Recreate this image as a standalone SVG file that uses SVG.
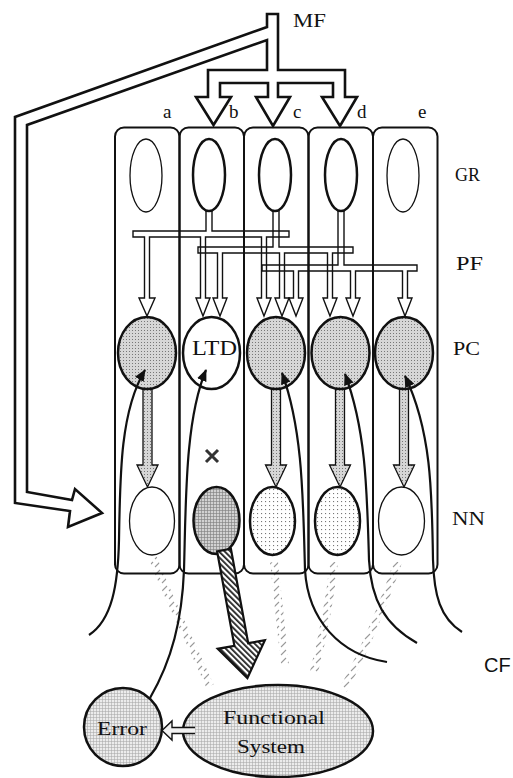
<svg xmlns="http://www.w3.org/2000/svg" width="513" height="778" viewBox="0 0 513 778">
<style>
.t{font-family:"Liberation Serif","Times New Roman",serif;fill:#111}
.cell{fill:none;stroke:#111;stroke-width:2}
.grThin{fill:#fff;stroke:#111;stroke-width:1.3}
.grThick{fill:#fff;stroke:#111;stroke-width:2.5}
.pc{stroke:#111;stroke-width:2.5}
.nnThin{fill:#fff;stroke:#111;stroke-width:1.3}
.nnThick{stroke:#111;stroke-width:2.5}
.pfFill{fill:#fff;stroke:none}
.pfLine{fill:none;stroke:#111;stroke-width:1.4;stroke-linejoin:miter}
.cf{fill:none;stroke:#111;stroke-width:2.2;marker-end:url(#cfHead)}
.pcnn{fill:url(#stip);stroke:#111;stroke-width:1.3}
.strip{fill:none;stroke:url(#ticks);stroke-width:8}
</style>
<defs>
<pattern id="stip" width="3" height="3" patternUnits="userSpaceOnUse"><rect width="3" height="3" fill="#d6d6d6"/><rect width="1" height="1" fill="#777"/></pattern>
<pattern id="dots" width="4" height="4" patternUnits="userSpaceOnUse"><rect width="4" height="4" fill="#fff"/><rect x="1" y="1" width="1.1" height="1.1" fill="#777"/></pattern>
<pattern id="grid" width="3" height="3" patternUnits="userSpaceOnUse"><rect width="3" height="3" fill="#ececec"/><path d="M0,0.3H3M0.3,0V3" stroke="#a8a8a8" stroke-width="0.7"/></pattern>
<pattern id="gridDark" width="3" height="3" patternUnits="userSpaceOnUse"><rect width="3" height="3" fill="#d2d2d2"/><path d="M0,0.3H3M0.3,0V3" stroke="#808080" stroke-width="0.8"/></pattern>
<pattern id="hatch" width="4" height="4" patternUnits="userSpaceOnUse" patternTransform="rotate(-45)"><rect width="4" height="4" fill="#fff"/><rect width="1.8" height="4" fill="#222"/></pattern>
<pattern id="ticks" width="7" height="8" patternUnits="userSpaceOnUse"><path d="M1,7 L6,2" stroke="#999" stroke-width="1.1"/></pattern>
<marker id="cfHead" viewBox="0 0 12 10" refX="11" refY="5" markerWidth="12" markerHeight="10" markerUnits="userSpaceOnUse" orient="auto"><path d="M0,0 L12,5 L0,10 z" fill="#111"/></marker>
</defs>

<g id="cf-shadows">
<path class="strip" d="M153,558 C165,590 185,630 210,686"/>
<path class="strip" d="M274,562 C278,600 282,635 285,665"/>
<path class="strip" d="M334,562 C330,600 322,640 314,672"/>
<path class="strip" d="M398,562 C385,600 365,650 343,690"/>
</g>

<g id="connectors">
<g id="pf-fibers">
<path id="pf-b-fill" class="pfFill" d="M206,205 L212,205 L212,231 L289,231 L289,237 L266.5,237 L266.5,298 L271,298 L264,316 L257,298 L261.5,298 L261.5,237 L205.5,237 L205.5,298 L210,298 L203,316 L196,298 L200.5,298 L200.5,237 L149.5,237 L149.5,298 L155,298 L147,316 L139,298 L144.5,298 L144.5,237 L133,237 L133,231 L206,231 Z"/>
<path id="pf-c-fill" class="pfFill" d="M273,205 L279,205 L279,247 L353,247 L353,253 L332.5,253 L332.5,298 L337,298 L330,316 L323,298 L327.5,298 L327.5,253 L284.5,253 L284.5,298 L289,298 L282,316 L275,298 L279.5,298 L279.5,253 L222.5,253 L222.5,298 L227,298 L220,316 L213,298 L217.5,298 L217.5,253 L198,253 L198,247 L273,247 Z"/>
<path id="pf-d-fill" class="pfFill" d="M338,205 L344,205 L344,265 L417,265 L417,271 L407.5,271 L407.5,298 L412,298 L405,316 L398,298 L402.5,298 L402.5,271 L355.5,271 L355.5,298 L360,298 L353,316 L346,298 L350.5,298 L350.5,271 L298.5,271 L298.5,298 L303,298 L296,316 L289,298 L293.5,298 L293.5,271 L262,271 L262,265 L338,265 Z"/>
<path class="pfLine" d="M206,205 L212,205 L212,231 L289,231 L289,237 L266.5,237 L266.5,298 L271,298 L264,316 L257,298 L261.5,298 L261.5,237 L205.5,237 L205.5,298 L210,298 L203,316 L196,298 L200.5,298 L200.5,237 L149.5,237 L149.5,298 L155,298 L147,316 L139,298 L144.5,298 L144.5,237 L133,237 L133,231 L206,231 Z"/>
<path class="pfLine" d="M273,205 L279,205 L279,247 L353,247 L353,253 L332.5,253 L332.5,298 L337,298 L330,316 L323,298 L327.5,298 L327.5,253 L284.5,253 L284.5,298 L289,298 L282,316 L275,298 L279.5,298 L279.5,253 L222.5,253 L222.5,298 L227,298 L220,316 L213,298 L217.5,298 L217.5,253 L198,253 L198,247 L273,247 Z"/>
<path class="pfLine" d="M338,205 L344,205 L344,265 L417,265 L417,271 L407.5,271 L407.5,298 L412,298 L405,316 L398,298 L402.5,298 L402.5,271 L355.5,271 L355.5,298 L360,298 L353,316 L346,298 L350.5,298 L350.5,271 L298.5,271 L298.5,298 L303,298 L296,316 L289,298 L293.5,298 L293.5,271 L262,271 L262,265 L338,265 Z"/>
</g>
</g>

<g id="cells">
<g id="cell-a"><rect class="cell" x="115" y="127.5" width="64.5" height="446" rx="9"/><text class="t" x="163" y="118" font-size="19">a</text></g>
<g id="cell-b"><rect class="cell" x="179.5" y="127.5" width="64.5" height="446" rx="9"/><text class="t" x="229" y="118" font-size="19">b</text></g>
<g id="cell-c"><rect class="cell" x="244" y="127.5" width="64.5" height="446" rx="9"/><text class="t" x="293" y="118" font-size="19">c</text></g>
<g id="cell-d"><rect class="cell" x="308.5" y="127.5" width="64.5" height="446" rx="9"/><text class="t" x="357" y="118" font-size="19">d</text></g>
<g id="cell-e"><rect class="cell" x="373" y="127.5" width="64.5" height="446" rx="9"/><text class="t" x="418" y="118" font-size="19">e</text></g>
</g>

<g id="gr-a"><ellipse class="grThin" cx="146" cy="175.5" rx="16" ry="36.5"/></g>
<g id="gr-b"><ellipse class="grThick" cx="209" cy="175" rx="16" ry="36"/></g>
<g id="gr-c"><ellipse class="grThick" cx="275" cy="175" rx="16" ry="36"/></g>
<g id="gr-d"><ellipse class="grThick" cx="341" cy="175" rx="16" ry="36"/></g>
<g id="gr-e"><ellipse class="grThin" cx="403" cy="175.5" rx="16" ry="36.5"/></g>

<g id="pc-nn-arrows">
<path class="pcnn" d="M143,385 L152,385 L152,465 L158,465 L147.5,487 L137,465 L143,465 Z"/>
<path class="pcnn" d="M271.5,385 L280.5,385 L280.5,465 L286.5,465 L276,487 L265.5,465 L271.5,465 Z"/>
<path class="pcnn" d="M335.5,385 L344.5,385 L344.5,465 L350.5,465 L340,487 L329.5,465 L335.5,465 Z"/>
<path class="pcnn" d="M399.5,385 L408.5,385 L408.5,465 L414.5,465 L404,487 L393.5,465 L399.5,465 Z"/>
</g>

<g id="pc-a"><ellipse class="pc" cx="147" cy="353" rx="29" ry="36" fill="url(#stip)"/></g>
<g id="pc-b"><ellipse class="pc" cx="211.5" cy="353" rx="28.5" ry="36" fill="#fff"/><text class="t" x="192" y="355" font-size="20" textLength="45" lengthAdjust="spacingAndGlyphs">LTD</text></g>
<g id="pc-c"><ellipse class="pc" cx="276" cy="353" rx="29" ry="36" fill="url(#stip)"/></g>
<g id="pc-d"><ellipse class="pc" cx="340.5" cy="353" rx="29" ry="36" fill="url(#stip)"/></g>
<g id="pc-e"><ellipse class="pc" cx="404" cy="353" rx="29" ry="36" fill="url(#stip)"/></g>

<g id="cf-fibers">
<path class="cf" d="M89,635 C112,620 118,585 119,540 C120,470 121,410 145,370"/>
<path class="cf" d="M150,698 C172,660 182,620 184,570 C186,500 185,420 206,370"/>
<path class="cf" d="M387,662 C340,655 308,620 305,570 C303,500 303,430 282,373"/>
<path class="cf" d="M417,643 C385,625 371,600 369,560 C367,490 366,430 345,374"/>
<path class="cf" d="M462,632 C440,618 434,595 433,560 C432,490 431,430 405,376"/>
</g>

<g id="nn-a"><ellipse class="nnThin" cx="152" cy="521" rx="22.5" ry="34"/></g>
<g id="nn-b"><ellipse class="nnThick" cx="216.5" cy="520.5" rx="23" ry="33.5" fill="url(#gridDark)"/></g>
<g id="nn-c"><ellipse class="nnThick" cx="272.5" cy="521" rx="22.5" ry="34" fill="url(#dots)"/></g>
<g id="nn-d"><ellipse class="nnThick" cx="337.5" cy="521" rx="22.5" ry="34" fill="url(#dots)"/></g>
<g id="nn-e"><ellipse class="nnThin" cx="401.5" cy="521" rx="23" ry="34" fill="#fff"/></g>

<g id="block-mark"><path d="M206,450 L218,462 M218,450 L206,462" stroke="#333" stroke-width="3" fill="none"/></g>

<g id="mf-tube">
<path d="M267,27 L267,14 L278,14 L278,70 L345,70 L345,97 L357,97 L340,126 L322,97 L333,97 L333,83 L278,83 L278,97 L290,97 L273,126 L256,97 L268,97 L268,83 L220,83 L220,97 L231,97 L213.5,125 L196,97 L208,97 L208,70 L267,70 L267,40 L27,125 L27,492 L72,500 L75,489 L102,513 L68,527 L70,511 L15,503 L15,117 Z" fill="#fff" stroke="#111" stroke-width="2.6" stroke-linejoin="miter"/>
</g>

<g id="output-arrow">
<path d="M217.1,551.3 L234.4,645.8 L217.7,648.8 L247.4,678 L264.9,640.2 L248.2,643.2 L230.9,548.7 Z" fill="url(#hatch)" stroke="#111" stroke-width="2.2" stroke-linejoin="miter"/>
</g>

<g id="error"><circle cx="123" cy="727" r="39" fill="url(#grid)" stroke="#111" stroke-width="2.5"/><text class="t" x="97" y="735" font-size="19" textLength="50" lengthAdjust="spacingAndGlyphs">Error</text></g>
<g id="functional-system"><ellipse cx="278" cy="731" rx="95" ry="46" fill="url(#grid)" stroke="#111" stroke-width="2.5"/><text class="t" x="223" y="724" font-size="19" textLength="102" lengthAdjust="spacingAndGlyphs">Functional</text><text class="t" x="237" y="753" font-size="19" textLength="68" lengthAdjust="spacingAndGlyphs">System</text></g>
<g id="feedback-arrow"><path d="M195,727.5 L172,727.5 L172,721 L162,730.5 L172,740 L172,733.5 L195,733.5" fill="#f2f2f2" stroke="#111" stroke-width="1.4"/></g>

<g id="labels">
<text class="t" x="293" y="27" font-size="19" textLength="33" lengthAdjust="spacingAndGlyphs">MF</text>
<text class="t" x="455" y="181" font-size="18" textLength="25" lengthAdjust="spacingAndGlyphs">GR</text>
<text class="t" x="456" y="270" font-size="18" textLength="27" lengthAdjust="spacingAndGlyphs">PF</text>
<text class="t" x="453" y="355" font-size="19" textLength="27" lengthAdjust="spacingAndGlyphs">PC</text>
<text class="t" x="452" y="525" font-size="19" textLength="33" lengthAdjust="spacingAndGlyphs">NN</text>
<text x="484" y="672" font-family="'Liberation Sans', Arial, sans-serif" font-size="20" fill="#111">CF</text>
</g>
</svg>
